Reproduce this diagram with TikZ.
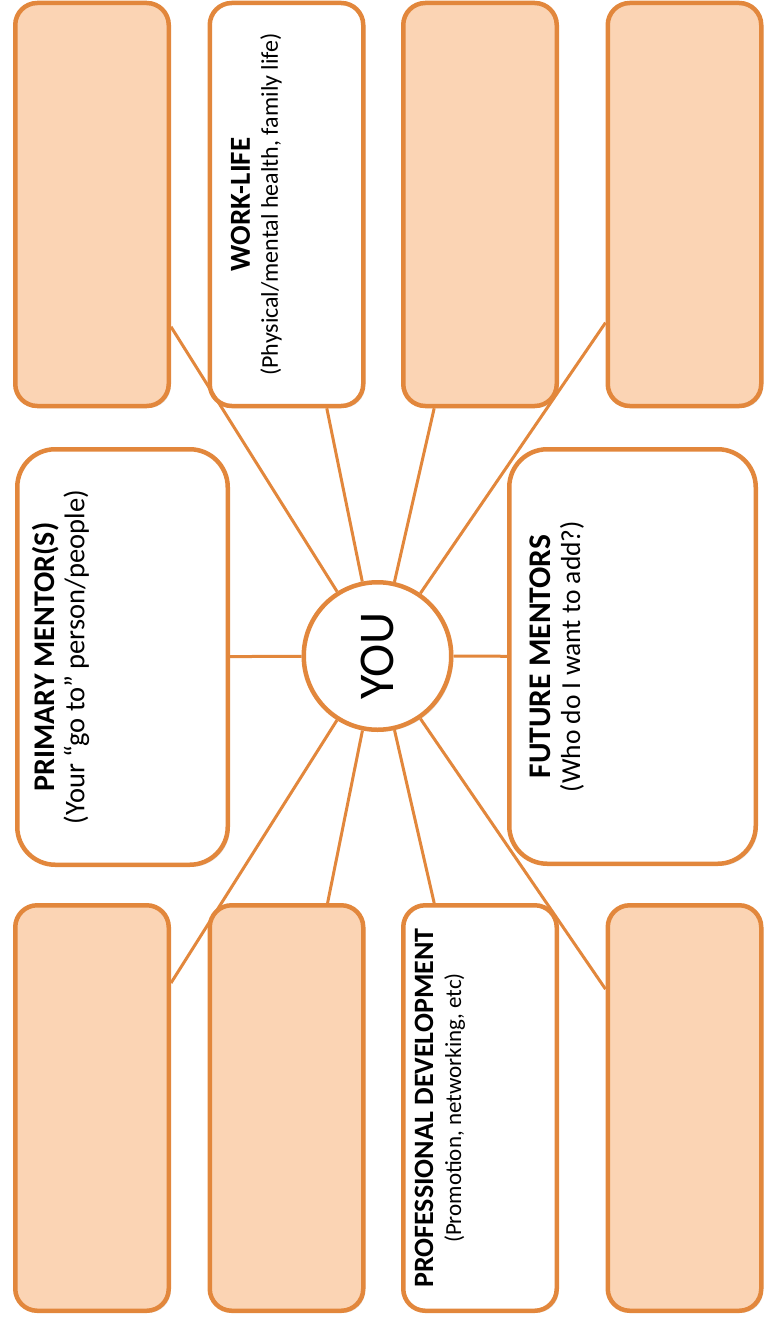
\documentclass[tikz,border=0pt]{standalone}
\usepackage{fontspec}
\setmainfont{Carlito}
\usepackage{graphicx}
\usetikzlibrary{calc, shadows}
\definecolor{mentorline}{RGB}{226,135,60}
\definecolor{mentorfill}{RGB}{251,212,180}
\tikzset{
  blank/.style={
    rectangle,
    rounded corners=22pt,
    draw=mentorline,
    line width=4.5pt,
    fill=mentorfill,
    inner sep=0pt,
    minimum width=153.5pt,
    drop shadow={shadow xshift=2pt, shadow yshift=-2pt, opacity=0.2}
  },
  topic/.style={
    blank,
    fill=white,
    align=left
  },
  spoke/.style={draw=mentorline, line width=3pt}
}
% title size, subtitle size, line skip, title, subtitle
\newcommand\topictext[5]{\rotatebox{90}{\fontsize{#2}{#3}\selectfont\spaceskip=0pt\xspaceskip=0pt\relax
  \begin{tabular}{@{}c@{}}{\bfseries\fontsize{#1}{#3}\selectfont #4}\\#5\end{tabular}}}

\begin{document}
\begin{tikzpicture}[x=1pt, y=-1pt]
    \useasboundingbox (0,0) rectangle (765,1322);
    % top row
    \node[blank, minimum height=403pt] (a) at (92, 204.5) {};
    \node[topic, minimum height=403pt, inner xsep=20.5pt, text width=112.5pt] (b) at (286.5, 204.5) {\topictext{29}{24}{28}{WORK-LIFE}{(Physical/mental health, family life)}};
    \node[blank, minimum height=403pt] (c) at (480, 204.5) {};
    \node[blank, minimum height=403pt] (d) at (684.5, 204.5) {};
    % middle row
    \node[topic, rounded corners=38pt, minimum height=415.5pt, inner xsep=14.75pt, text width=181pt] (primary) at (122.5, 657) {\topictext{30}{28.5}{30}{PRIMARY MENTOR(S)}{(Your “go to” person/people)}};
    \node[circle, draw=mentorline, line width=4.5pt, fill=white, minimum size=147.5pt, inner sep=0pt, font=\fontsize{50}{50}\selectfont,
      drop shadow={shadow xshift=2pt, shadow yshift=-2pt, opacity=0.2}] (you) at (377.5, 656) {\rotatebox{90}{YOU}};
    \node[topic, rounded corners=38pt, minimum height=414.5pt, inner xsep=19.75pt, text width=207pt] (future) at (632.5, 656.5) {\topictext{31.5}{27.5}{30}{FUTURE MENTORS}{(Who do I want to add?)}};
    % bottom row
    \node[blank, minimum height=405.5pt] (e) at (92, 1108) {};
    \node[blank, minimum height=405.5pt] (f) at (286.5, 1108) {};
    \node[topic, minimum height=405.5pt, inner xsep=10.15pt, text width=133.2pt] (g) at (480, 1108) {\topictext{28}{23}{28}{PROFESSIONAL DEVELOPMENT}{(Promotion, networking, etc)}};
    \node[blank, minimum height=405.5pt] (h) at (684.5, 1108) {};
    % spokes
    \draw[spoke] (you) -- (primary);
    \draw[spoke] (you) -- (future);
    \draw[spoke] (you) -- ($(a.north east)!0.80!(a.south east)$);
    \draw[spoke] (you) -- ($(b.south west)!0.755!(b.south east)$);
    \draw[spoke] (you) -- ($(c.south west)!0.21!(c.south east)$);
    \draw[spoke] (you) -- ($(d.north west)!0.79!(d.south west)$);
    \draw[spoke] (you) -- ($(e.north east)!0.195!(e.south east)$);
    \draw[spoke] (you) -- ($(f.north west)!0.76!(f.north east)$);
    \draw[spoke] (you) -- ($(g.north west)!0.21!(g.north east)$);
    \draw[spoke] (you) -- ($(h.north west)!0.21!(h.south west)$);
\end{tikzpicture}
\end{document}
